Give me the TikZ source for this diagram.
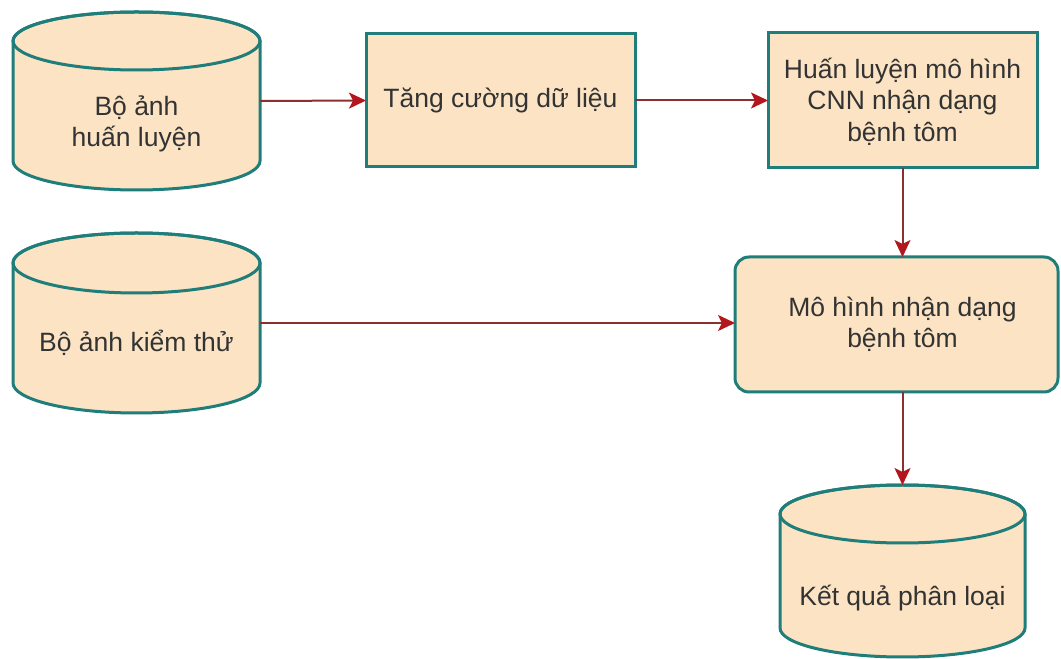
\documentclass[tikz,border=0pt]{standalone}
\usepackage{fontspec}
\setmainfont{Liberation Sans}
\usetikzlibrary{arrows.meta}
\definecolor{boxfill}{HTML}{FBE3C4}
\definecolor{boxline}{HTML}{1F7D7A}
\definecolor{arrline}{HTML}{8A3030}
\definecolor{arrhead}{HTML}{B3161C}
\definecolor{txtcol}{HTML}{333333}
\tikzset{
  shapebox/.style={rectangle, inner sep=0pt, outer sep=0pt},
  cylbody/.style={fill=boxfill, draw=boxline, line width=3pt},
  procbox/.style={rectangle, fill=boxfill, draw=boxline, line width=3pt, inner sep=0pt, outer sep=0pt},
  roundbox/.style={procbox, rounded corners=14pt},
  lbl/.style={text=txtcol, align=center, font=\fontsize{26.5}{31.5}\selectfont, inner sep=0pt},
  flow/.style={draw=arrline, line width=2pt, -{Stealth[length=17pt,width=16pt,inset=4pt,color=arrhead]}},
}
\newcommand\drawcyl[3]{% name, rx, ry
  \path[cylbody] ([yshift=-#3pt]#1.north west) -- ([yshift=#3pt]#1.south west)
     arc[start angle=180, end angle=360, x radius=#2pt, y radius=#3pt]
     -- ([yshift=-#3pt]#1.north east)
     arc[start angle=0, end angle=180, x radius=#2pt, y radius=#3pt] -- cycle;
  \draw[cylbody, fill=none] ([yshift=-#3pt]#1.north) ellipse[x radius=#2pt, y radius=#3pt];
}
\begin{document}
\begin{tikzpicture}[x=1pt,y=1pt]
\useasboundingbox (0,0) rectangle (1061,659);
% cylinders (shape boxes)
\node[shapebox, minimum width=247pt, minimum height=178pt] (c1) at (136.5,558) {};
\node[shapebox, minimum width=247pt, minimum height=180pt] (c2) at (136.5,336) {};
\node[shapebox, minimum width=245pt, minimum height=172pt] (c3) at (902.5,88) {};
\drawcyl{c1}{123.5}{29}
\drawcyl{c2}{123.5}{30}
\drawcyl{c3}{122.5}{29}
\node[lbl] (c1t) at ([yshift=-23pt]c1.center) {Bộ ảnh\\huấn luyện};
\node[lbl] (c2t) at ([yshift=-20pt]c2.center) {Bộ ảnh kiểm thử};
\node[lbl] (c3t) at ([yshift=-27pt]c3.center) {Kết quả phân loại};
% process boxes
\node[procbox, minimum width=269pt, minimum height=133pt] (r1) at (500.5,558.5) {};
\node[lbl] (r1t) at (r1.center) {Tăng cường dữ liệu};
\node[procbox, minimum width=269pt, minimum height=135pt] (r2) at (902.5,558.5) {};
\node[lbl] (r2t) at ([yshift=-1pt]r2.center) {Huấn luyện mô hình\\CNN nhận dạng\\bệnh tôm};
\node[roundbox, minimum width=323pt, minimum height=135pt] (r3) at (896.5,334.5) {};
\node[lbl] (r3t) at ([xshift=6pt,yshift=0pt]r3.center) {Mô hình nhận dạng\\bệnh tôm};
% connectors
\draw[flow] (c1.east) -- (r1.west);
\draw[flow] (r1.east) -- (r2.west);
\draw[flow] (r2.south) -- (r2.south |- r3.north);
\draw[flow] (c2.east) -- (c2.east -| r3.west);
\draw[flow] (c3.north |- r3.south) -- (c3.north);
\end{tikzpicture}
\end{document}
